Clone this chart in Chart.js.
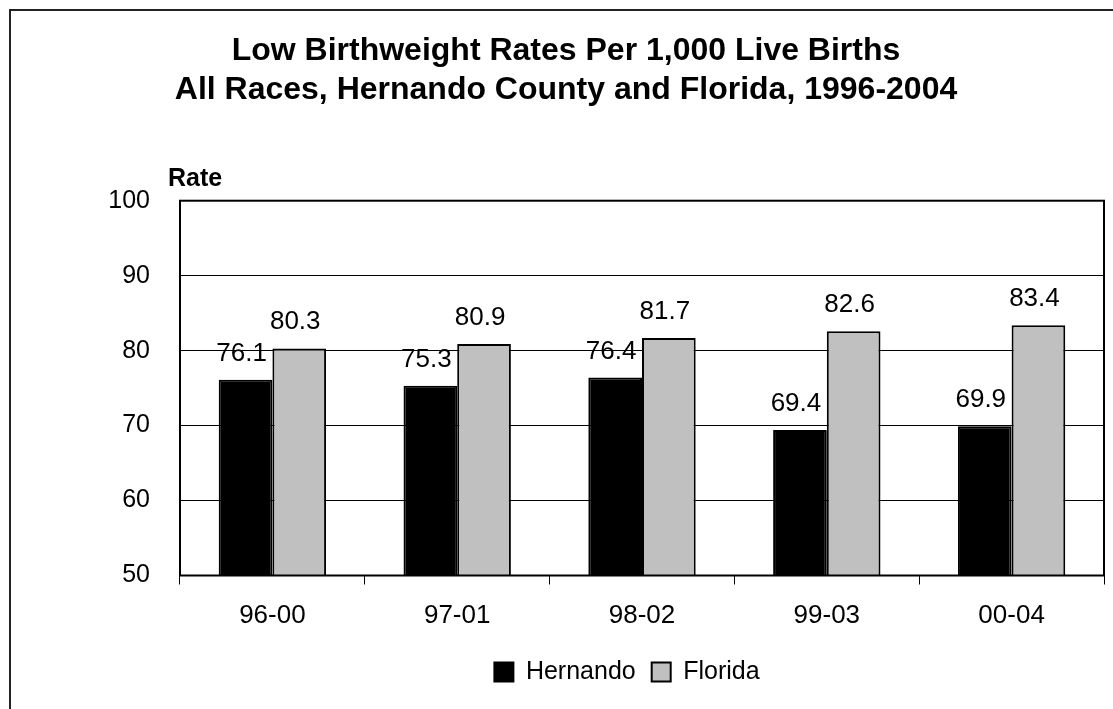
<!DOCTYPE html>
<html>
<head>
<meta charset="utf-8">
<script src="https://cdn.jsdelivr.net/npm/chart.js@4.4.1/dist/chart.umd.min.js"></script>
<style>
  html, body { margin: 0; padding: 0; background: #fff; overflow: hidden; }
  #wrap { width: 1113px; height: 709px; position: relative; }
</style>
</head>
<body>
<div id="wrap"><canvas id="birthChart" width="1113" height="709"></canvas></div>
<script>
const periods = ["96-00", "97-01", "98-02", "99-03", "00-04"];
const hernando = [76.1, 75.3, 76.4, 69.4, 69.9];
const florida = [80.3, 80.9, 81.7, 82.6, 83.4];
const titleLines = [
    "Low Birthweight Rates Per 1,000 Live Births",
    "All Races, Hernando County and Florida, 1996-2004"
];
const yLabel = "Rate";

const FONT = '"Liberation Sans", Arial, sans-serif';

// outer frame, plot frame, "Rate" label and bar values
const extrasPlugin = {
    id: "extras",
    beforeDraw(chart) {
        const ctx = chart.ctx;
        ctx.save();
        ctx.fillStyle = "#fff";
        ctx.fillRect(0, 0, chart.width, chart.height);
        ctx.strokeStyle = "#222";
        ctx.lineWidth = 2;
        ctx.strokeRect(10, 10, chart.width + 40, chart.height + 40);
        ctx.restore();
    },
    afterLayout(chart) {
        // legend sits a bit left of the plot centre in the original
        chart.legend.left -= 15;
        chart.legend.right -= 15;
    },
    afterDatasetsDraw(chart) {
        const ctx = chart.ctx;
        const area = chart.chartArea;
        ctx.save();
        ctx.strokeStyle = "#000";
        ctx.lineWidth = 2;
        ctx.strokeRect(area.left, area.top, area.right - area.left, area.bottom - area.top);

        ctx.fillStyle = "#000";
        ctx.font = "bold 25px " + FONT;
        ctx.textAlign = "left";
        ctx.textBaseline = "alphabetic";
        ctx.fillText(yLabel, area.left - 12, area.top - 15);

        ctx.font = "26px " + FONT;
        ctx.textAlign = "center";
        chart.data.datasets.forEach((ds, i) => {
            const meta = chart.getDatasetMeta(i);
            meta.data.forEach((bar, j) => {
                ctx.fillText(ds.data[j].toFixed(1), bar.x - 4, bar.y - 19);
            });
        });
        ctx.restore();
    }
};

new Chart(document.getElementById("birthChart"), {
    type: "bar",
    data: {
        labels: periods,
        datasets: [
            {
                label: "Hernando",
                data: hernando,
                backgroundColor: "#000000",
                borderColor: "#000000",
                borderWidth: 2
            },
            {
                label: "Florida",
                data: florida,
                backgroundColor: "#C0C0C0",
                borderColor: "#000000",
                borderWidth: 2
            }
        ]
    },
    options: {
        responsive: false,
        animation: false,
        layout: { padding: { left: 28, right: 9, top: 0, bottom: 14.5 } },
        datasets: {
            bar: { categoryPercentage: 0.581, barPercentage: 1 }
        },
        scales: {
            x: {
                grid: { offset: true, drawOnChartArea: false, tickLength: 9, color: "#000" },
                border: { display: false },
                ticks: { color: "#000", padding: 16, font: { family: FONT, size: 26 } },
                afterFit(scale) { scale.height = 68; }
            },
            y: {
                min: 50,
                max: 100,
                grid: { color: "#000", lineWidth: 1, drawTicks: false },
                border: { display: false },
                ticks: { stepSize: 10, color: "#000", padding: 30, font: { family: FONT, size: 25 } },
                afterFit(scale) { scale.width = 152; }
            }
        },
        plugins: {
            title: {
                display: true,
                text: titleLines,
                color: "#000",
                font: { family: FONT, size: 32, weight: "bold", lineHeight: 1.23 },
                padding: { top: 31, bottom: 91 }
            },
            legend: {
                position: "bottom",
                fullSize: false,
                labels: {
                    color: "#000",
                    boxWidth: 19,
                    boxHeight: 19,
                    padding: 16,
                    font: { family: FONT, size: 25 }
                }
            },
            tooltip: { enabled: false }
        }
    },
    plugins: [extrasPlugin]
});
</script>
</body>
</html>
